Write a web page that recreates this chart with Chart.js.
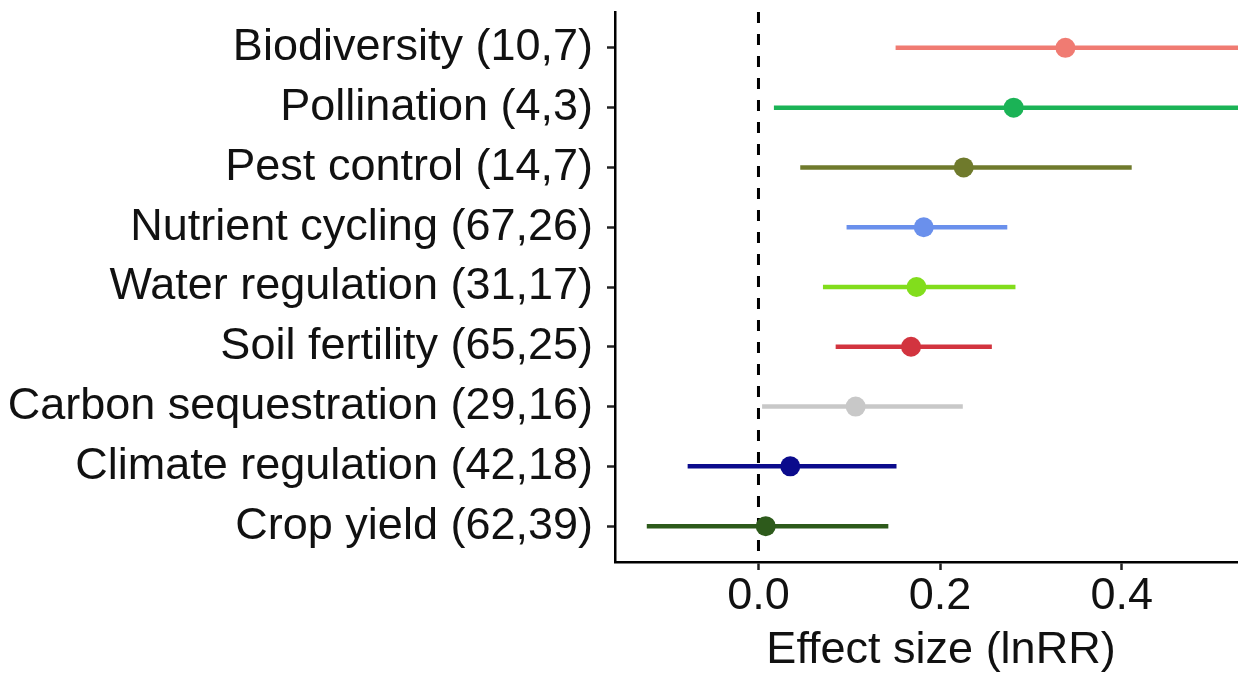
<!DOCTYPE html>
<html>
<head>
<meta charset="utf-8">
<script src="https://cdn.jsdelivr.net/npm/chart.js@4"></script>
<style>
  html, body { margin: 0; padding: 0; background: #fff; overflow: hidden; }
  #wrap { width: 1277px; height: 678px; }
</style>
</head>
<body>
<div id="wrap"><canvas id="forestCanvas" width="1277" height="678"></canvas></div>
<script>
// categories, top to bottom
var categories = [
    "Biodiversity (10,7)",
    "Pollination (4,3)",
    "Pest control (14,7)",
    "Nutrient cycling (67,26)",
    "Water regulation (31,17)",
    "Soil fertility (65,25)",
    "Carbon sequestration (29,16)",
    "Climate regulation (42,18)",
    "Crop yield (62,39)"
];
var estimates = [0.338, 0.281, 0.226, 0.182, 0.174, 0.168, 0.107, 0.035, 0.008];
var lowerCI   = [0.151, 0.017, 0.046, 0.097, 0.071, 0.085, 0.004, -0.078, -0.123];
var upperCI   = [0.560, 0.600, 0.411, 0.274, 0.283, 0.257, 0.225, 0.152, 0.143];
var pointColors = ['#f07b72', '#1bb356', '#6f7a2c', '#6a90ec', '#82dd1c', '#d2343f', '#c8c8c8', '#0b0b8c', '#2d5a1b'];
var xTicks = [0.0, 0.2, 0.4];

var FONT = '"Liberation Sans", Arial, Helvetica, sans-serif';

var datasets = [];

// confidence intervals, one line per category
categories.forEach(function (c, i) {
    datasets.push({
        type: 'line',
        data: [{ x: lowerCI[i], y: i }, { x: upperCI[i], y: i }],
        borderColor: pointColors[i],
        borderWidth: 4.5,
        pointRadius: 0,
        showLine: true,
        order: 3
    });
});

// dashed zero line
datasets.push({
    type: 'line',
    data: [{ x: 0, y: -0.6 }, { x: 0, y: 8.6 }],
    borderColor: '#000',
    borderWidth: 3,
    borderDash: [11, 11],
    pointRadius: 0,
    showLine: true,
    order: 2
});

// point estimates
datasets.push({
    type: 'scatter',
    data: estimates.map(function (v, i) { return { x: v, y: i }; }),
    pointBackgroundColor: pointColors,
    pointBorderWidth: 0,
    pointRadius: 10,
    order: 1
});

var ctx = document.getElementById('forestCanvas').getContext('2d');
window.forest = new Chart(ctx, {
    type: 'scatter',
    data: { datasets: datasets },
    options: {
        responsive: false,
        animation: false,
        layout: { padding: { top: 12, left: 0, right: 0, bottom: 0 } },
        plugins: {
            legend: { display: false },
            tooltip: { enabled: false }
        },
        scales: {
            x: {
                type: 'linear',
                min: -0.158,
                max: 0.56,
                afterBuildTicks: function (s) {
                    s.ticks = xTicks.map(function (v) { return { value: v }; });
                },
                afterFit: function (s) {
                    s.height = 116;
                    s.paddingLeft = 0;
                    s.paddingRight = 0;
                },
                ticks: {
                    color: '#111',
                    font: { family: FONT, size: 45 },
                    padding: 0,
                    callback: function (v) { return Number(v).toFixed(1); }
                },
                grid: { drawOnChartArea: false, drawTicks: true, tickLength: 8, tickWidth: 2.5, tickColor: '#222' },
                border: { display: true, color: '#000', width: 2.5 },
                title: {
                    display: true,
                    text: 'Effect size (lnRR)',
                    color: '#111',
                    font: { family: FONT, size: 45 },
                    padding: { top: 0, bottom: 0 }
                }
            },
            y: {
                type: 'linear',
                reverse: true,
                min: -0.6,
                max: 8.6,
                afterBuildTicks: function (s) {
                    s.ticks = categories.map(function (c, i) { return { value: i }; });
                },
                afterFit: function (s) {
                    s.width = 615;
                    s.paddingTop = 0;
                    s.paddingBottom = 0;
                },
                ticks: {
                    color: '#111',
                    font: { family: FONT, size: 45 },
                    padding: 14,
                    callback: function (v) { return categories[v]; }
                },
                grid: { drawOnChartArea: false, drawTicks: true, tickLength: 8, tickWidth: 2.5, tickColor: '#222' },
                border: { display: true, color: '#000', width: 2.5 }
            }
        }
    }
});
</script>
</body>
</html>
